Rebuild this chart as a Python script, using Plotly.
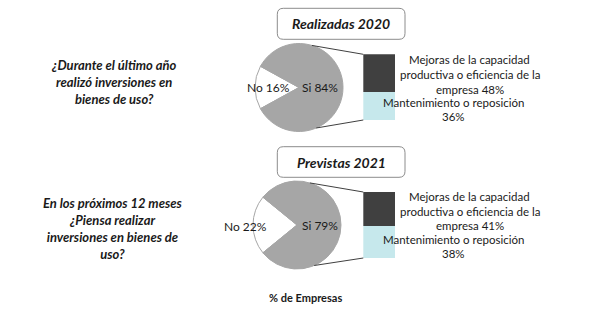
import math
import plotly.graph_objects as go

W, H = 609, 324

# ---- data -------------------------------------------------------------
panel_titles = ["Realizadas 2020", "Previstas 2021"]
questions = [
    "¿Durante el último año<br>realizó inversiones en<br>bienes de uso?",
    "En los próximos 12 meses<br>¿Piensa realizar<br>inversiones en bienes de<br>uso?",
]
pie_labels = ["No", "Si"]
pie_values = [[16, 84], [22, 79]]
bar_names = ["Mantenimiento o reposición",
             "Mejoras de la capacidad productiva o eficiencia de la empresa"]
bar_text = ["Mantenimiento o reposición<br>{v}%",
            "Mejoras de la capacidad<br>productiva o eficiencia de la<br>empresa {v}%"]
bar_values = [[36, 48], [38, 41]]
axis_note = "% de Empresas"

# ---- styling / layout geometry (pixels) -------------------------------
FONT = "Lato"
TXT = "#1a1a1a"
PIE_COLORS = ["#FFFFFF", "#A6A6A6"]
BAR_COLORS = ["#C6E8EC", "#404040"]

pie_centers = [(299, 87.5), (297, 225)]
pie_r = 44
bar_x = (363.3, 395.7)
bar_y = [(54.3, 120.0), (192.0, 258.0)]          # top, bottom
title_boxes = [(277.3, 8.3, 405, 39.3), (277.3, 146.7, 405, 177.3)]
question_pos = [(113, 82), (113, 228.5)]
pie_text_pos = [[(268, 87), (320, 87)], [(245, 226), (320, 225)]]
# x centre and first-line y of each bar label; lines are LINE_STEP apart
bar_text_pos = [[(453, 102.3), (470, 60)], [(453, 239.3), (470, 196.7)]]
LINE_STEP = 14.5


def px(x):
    return x / W


def py(y):
    return 1 - y / H


fig = go.Figure()
shapes = []
annotations = []

for i in range(2):
    cx, cy = pie_centers[i]
    vals = pie_values[i]
    total = sum(vals)
    no_angle = vals[0] / total * 360
    fig.add_trace(go.Pie(
        labels=pie_labels, values=vals, sort=False, direction="clockwise",
        rotation=270 - no_angle / 2,
        marker=dict(colors=PIE_COLORS, line=dict(color="#A6A6A6", width=1)),
        textinfo="none", hoverinfo="label+value", showlegend=False,
        domain=dict(x=[px(cx - pie_r), px(cx + pie_r)],
                    y=[py(cy + pie_r), py(cy - pie_r)]),
    ))
    for lab, v, (tx, ty) in zip(pie_labels, vals, pie_text_pos[i]):
        annotations.append(dict(
            x=px(tx), y=py(ty), xref="paper", yref="paper",
            text=f"{lab} {v}%", showarrow=False,
            font=dict(family=FONT, size=12, color=TXT),
            xanchor="center", yanchor="middle"))

    # stacked bar breaking down the "Si" share
    xa = "x" if i == 0 else "x2"
    ya = "y" if i == 0 else "y2"
    for name, v, col in zip(bar_names, bar_values[i], BAR_COLORS):
        fig.add_trace(go.Bar(
            x=[0], y=[v], name=name, marker=dict(color=col, line=dict(width=0)),
            width=1, xaxis=xa, yaxis=ya, showlegend=False, hoverinfo="name+y"))
    for tmpl, v, (tx, ty) in zip(bar_text, bar_values[i], bar_text_pos[i]):
        for k, line in enumerate(tmpl.format(v=v).split("<br>")):
            annotations.append(dict(
                x=px(tx), y=py(ty + k * LINE_STEP), xref="paper", yref="paper",
                text=line, showarrow=False,
                font=dict(family=FONT, size=11.5, color=TXT),
                xanchor="center", yanchor="middle"))

    # connector lines from the pie to the bar
    top, bottom = bar_y[i]
    for ang, by in ((17, top), (157, bottom)):
        a = math.radians(ang)
        sx = cx + pie_r * math.sin(a)
        sy = cy - pie_r * math.cos(a)
        shapes.append(dict(type="line", xref="paper", yref="paper",
                           x0=px(sx), y0=py(sy), x1=px(bar_x[0]), y1=py(by),
                           line=dict(color="#404040", width=1)))

    # rounded title box
    x0, y0, x1, y1 = title_boxes[i]
    rr = 6
    path = (f"M {px(x0 + rr)} {py(y0)} L {px(x1 - rr)} {py(y0)} "
            f"Q {px(x1)} {py(y0)} {px(x1)} {py(y0 + rr)} "
            f"L {px(x1)} {py(y1 - rr)} Q {px(x1)} {py(y1)} {px(x1 - rr)} {py(y1)} "
            f"L {px(x0 + rr)} {py(y1)} Q {px(x0)} {py(y1)} {px(x0)} {py(y1 - rr)} "
            f"L {px(x0)} {py(y0 + rr)} Q {px(x0)} {py(y0)} {px(x0 + rr)} {py(y0)} Z")
    shapes.append(dict(type="path", xref="paper", yref="paper", path=path,
                       line=dict(color="#8C8C8C", width=1), fillcolor="white"))
    annotations.append(dict(
        x=px((x0 + x1) / 2), y=py((y0 + y1) / 2), xref="paper", yref="paper",
        text=f"<b><i>{panel_titles[i]}</i></b>", showarrow=False,
        font=dict(family=FONT, size=14, color=TXT),
        xanchor="center", yanchor="middle"))

    qx, qy = question_pos[i]
    annotations.append(dict(
        x=px(qx), y=py(qy), xref="paper", yref="paper",
        text=f"<b><i>{questions[i]}</i></b>", showarrow=False, align="center",
        font=dict(family=FONT, size=13, color=TXT),
        xanchor="center", yanchor="middle"))

annotations.append(dict(
    x=px(305), y=py(297), xref="paper", yref="paper",
    text=f"<b>{axis_note}</b>", showarrow=False,
    font=dict(family=FONT, size=11, color=TXT),
    xanchor="center", yanchor="middle"))

hidden = dict(visible=False, fixedrange=True)
fig.update_layout(
    width=W, height=H, margin=dict(l=0, r=0, t=0, b=0),
    paper_bgcolor="white", plot_bgcolor="rgba(0,0,0,0)",
    barmode="stack", bargap=0,
    xaxis=dict(domain=[px(bar_x[0]), px(bar_x[1])], range=[-0.5, 0.5], **hidden),
    yaxis=dict(domain=[py(bar_y[0][1]), py(bar_y[0][0])],
               range=[0, sum(bar_values[0])], **hidden),
    xaxis2=dict(domain=[px(bar_x[0]), px(bar_x[1])], range=[-0.5, 0.5],
                anchor="y2", **hidden),
    yaxis2=dict(domain=[py(bar_y[1][1]), py(bar_y[1][0])],
                range=[0, sum(bar_values[1])], anchor="x2", **hidden),
    shapes=shapes, annotations=annotations,
)

fig.write_html("out.html")
